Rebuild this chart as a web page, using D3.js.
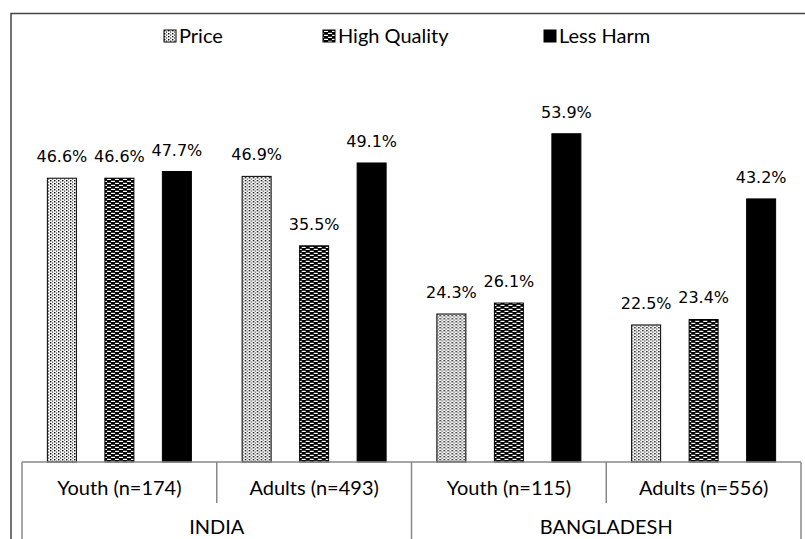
<!DOCTYPE html>
<html>
<head>
<meta charset="utf-8">
<script src="https://cdn.jsdelivr.net/npm/d3@7"></script>
<style>
  body { margin: 0; background: #fff; }
</style>
</head>
<body>
<script>
// data
var countries = ["INDIA", "BANGLADESH"];
var groups = ["Youth (n=174)", "Adults (n=493)", "Youth (n=115)", "Adults (n=556)"];
var groupCountry = ["INDIA", "INDIA", "BANGLADESH", "BANGLADESH"];
var seriesNames = ["Price", "High Quality", "Less Harm"];
var price = [46.6, 46.9, 24.3, 22.5];
var highQuality = [46.6, 35.5, 26.1, 23.4];
var lessHarm = [47.7, 49.1, 53.9, 43.2];

var w = 805, h = 539;
var left = 22, right = 801, base = 462;

var svg = d3.select("body").append("svg")
    .attr("width", w)
    .attr("height", h);

// patterns
var defs = svg.append("defs");
var p1 = defs.append("pattern").attr("id", "pat-price")
    .attr("patternUnits", "userSpaceOnUse").attr("width", 4).attr("height", 3);
p1.append("rect").attr("width", 4).attr("height", 3).attr("fill", "#fff");
p1.append("rect").attr("x", 0).attr("y", 0).attr("width", 1.4).attr("height", 1.4).attr("fill", "#000");
p1.append("rect").attr("x", 2).attr("y", 1.5).attr("width", 1.2).attr("height", 1.2).attr("fill", "#333");

var p2 = defs.append("pattern").attr("id", "pat-hq")
    .attr("patternUnits", "userSpaceOnUse").attr("width", 8).attr("height", 4);
p2.append("rect").attr("width", 8).attr("height", 4).attr("fill", "#000");
p2.append("rect").attr("x", 1).attr("y", 0.8).attr("width", 4).attr("height", 1.2).attr("fill", "#fff");
p2.append("rect").attr("x", 5).attr("y", 2.8).attr("width", 4).attr("height", 1.2).attr("fill", "#fff");
p2.append("rect").attr("x", -3).attr("y", 2.8).attr("width", 4).attr("height", 1.2).attr("fill", "#fff");

var fills = ["url(#pat-price)", "url(#pat-hq)", "#000"];

// scales
var x0 = d3.scaleBand().domain(groups).range([left, right]);
var x1 = d3.scalePoint().domain(seriesNames).range([x0.bandwidth() / 2 - 57.5, x0.bandwidth() / 2 + 57.5]);
var barW = 29;
var y = d3.scaleLinear().domain([0, 50]).range([base, base - 50 * 6.09]);

// outer frame
svg.append("path")
    .attr("d", "M11," + h + "V13.5H" + w)
    .attr("fill", "none").attr("stroke", "#444").attr("stroke-width", 1.5);

var rows = groups.map(function(g, i) {
    return { group: g, vals: [price[i], highQuality[i], lessHarm[i]] };
});

var gg = svg.selectAll("g.grp").data(rows).enter().append("g")
    .attr("class", "grp")
    .attr("transform", function(d) { return "translate(" + x0(d.group) + ",0)"; });

gg.selectAll("rect").data(function(d) { return d.vals; }).enter().append("rect")
    .attr("x", function(d, i) { return x1(seriesNames[i]) - barW / 2; })
    .attr("y", function(d) { return y(d); })
    .attr("width", barW)
    .attr("height", function(d) { return base - y(d); })
    .attr("fill", function(d, i) { return fills[i]; })
    .attr("stroke", "#000").attr("stroke-width", 1);

gg.selectAll("text").data(function(d) { return d.vals; }).enter().append("text")
    .attr("x", function(d, i) { return x1(seriesNames[i]); })
    .attr("y", function(d) { return y(d) - 16; })
    .attr("text-anchor", "middle")
    .attr("font-family", "DejaVu Sans")
    .attr("font-size", "16px")
    .attr("fill", "#000")
    .text(function(d) { return d.toFixed(1) + "%"; });

// category axis (table style)
var axisColor = "#888";
var ax = svg.append("g");
ax.append("line").attr("x1", left).attr("x2", right).attr("y1", base).attr("y2", base)
    .attr("stroke", axisColor).attr("stroke-width", 1.5);
groups.forEach(function(g, i) {
    var xs = x0(g);
    var full = (i === 0 || groupCountry[i] !== groupCountry[i - 1]);
    ax.append("line").attr("x1", xs).attr("x2", xs).attr("y1", base).attr("y2", full ? h : 503)
        .attr("stroke", axisColor).attr("stroke-width", 1.5);
    ax.append("text").attr("x", xs + x0.bandwidth() / 2).attr("y", 495)
        .attr("text-anchor", "middle").attr("font-family", "Lato").attr("font-size", "20px")
        .attr("fill", "#000").text(g);
});
ax.append("line").attr("x1", right).attr("x2", right).attr("y1", base).attr("y2", h)
    .attr("stroke", axisColor).attr("stroke-width", 1.5);
countries.forEach(function(c) {
    var gs = groups.filter(function(g, i) { return groupCountry[i] === c; });
    var cx = (x0(gs[0]) + x0(gs[gs.length - 1]) + x0.bandwidth()) / 2;
    ax.append("text").attr("x", cx).attr("y", 534)
        .attr("text-anchor", "middle").attr("font-family", "Lato").attr("font-size", "20px")
        .attr("fill", "#000").text(c);
});

// legend
var legendX = [164, 323, 544];
var lg = svg.selectAll("g.leg").data(seriesNames).enter().append("g")
    .attr("class", "leg")
    .attr("transform", function(d, i) { return "translate(" + legendX[i] + ",30)"; });
lg.append("rect").attr("width", 12).attr("height", 12)
    .attr("fill", function(d, i) { return fills[i]; })
    .attr("stroke", "#000").attr("stroke-width", 1);
lg.append("text").attr("x", 15).attr("y", 12.5)
    .attr("font-family", "Lato").attr("font-size", "20px").attr("fill", "#000")
    .text(function(d) { return d; });
</script>
</body>
</html>
